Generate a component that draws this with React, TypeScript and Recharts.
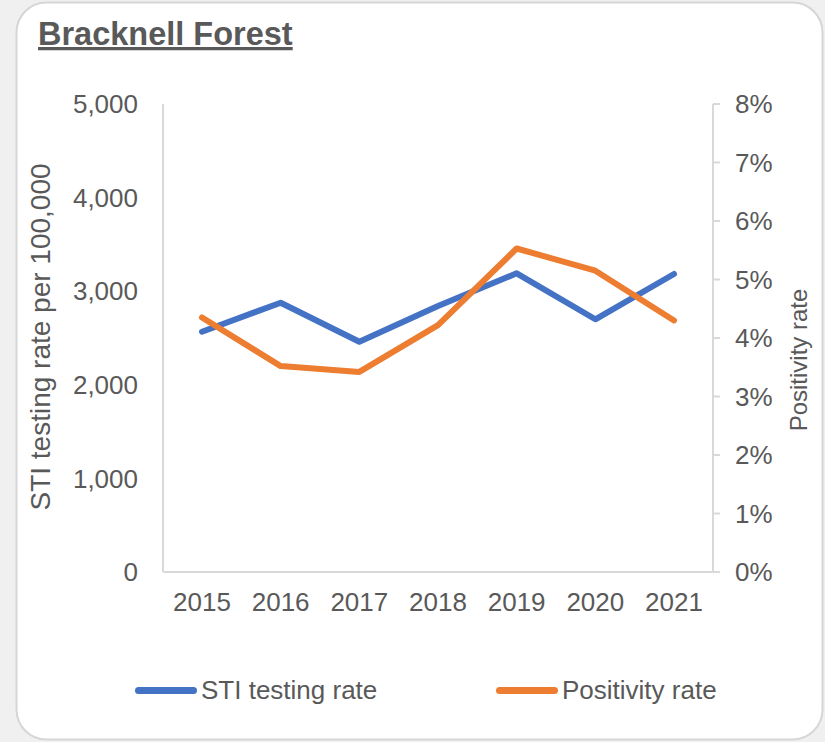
import React from 'react';
import { LineChart, Line, XAxis, YAxis, Label } from 'recharts';

const years = ['2015', '2016', '2017', '2018', '2019', '2020', '2021'];
const stiTestingRate = [2567, 2877, 2460, 2842, 3191, 2700, 3184];
const positivityRate = [4.35, 3.52, 3.42, 4.22, 5.53, 5.15, 4.3];
const leftTicks = [0, 1000, 2000, 3000, 4000, 5000];
const rightTicks = [0, 1, 2, 3, 4, 5, 6, 7, 8];

const title = 'Bracknell Forest';
const leftTitle = 'STI testing rate per 100,000';
const rightTitle = 'Positivity rate';
const seriesNames = ['STI testing rate', 'Positivity rate'];

const BLUE = '#4472C4';
const ORANGE = '#ED7D31';
const TEXT = '#595959';
const AXIS = '#d9d9d9';
const FONT = '"Liberation Sans", Arial, sans-serif';

const data = years.map((y, i) => ({ year: y, sti: stiTestingRate[i], pos: positivityRate[i] }));

const fmtThousands = (v: number) => v.toLocaleString('en-US');
const fmtPct = (v: number) => `${v}%`;

export default function App() {
  return (
    <div
      style={{
        position: 'absolute',
        left: 0,
        top: 0,
        width: 825,
        height: 742,
        background: '#f0f0f0',
        fontFamily: FONT,
        overflow: 'hidden',
      }}
    >
      <svg width={825} height={742} style={{ position: 'absolute', left: 0, top: 0 }}>
        <rect x={16.5} y={2.5} width={806} height={737} rx={30} ry={30} fill="#ffffff" stroke="#d6d6d6" strokeWidth={2} />
        <text x={38} y={45} fontFamily={FONT} fontSize={32.5} fontWeight="bold" fill={TEXT} textDecoration="underline">
          {title}
        </text>
      </svg>
      <div style={{ position: 'absolute', left: 0, top: 0 }}>
        <LineChart width={825} height={742} data={data} margin={{ top: 104, right: 0, bottom: 0, left: 0 }}>
          <XAxis
            dataKey="year"
            height={170}
            padding={{ left: 39, right: 39 }}
            axisLine={{ stroke: AXIS, strokeWidth: 2 }}
            tickLine={false}
            tickSize={0}
            tickMargin={21}
            tick={{ fill: TEXT, fontSize: 26, fontFamily: FONT }}
            interval={0}
          />
          <YAxis
            yAxisId="left"
            orientation="left"
            width={163}
            domain={[0, 5000]}
            ticks={leftTicks}
            tickFormatter={fmtThousands}
            axisLine={{ stroke: AXIS, strokeWidth: 2 }}
            tickLine={false}
            tickSize={0}
            tickMargin={25}
            tick={{ fill: TEXT, fontSize: 26, fontFamily: FONT }}
            interval={0}
          >
            <Label
              content={(props: any) => {
                const vb = props.viewBox || { x: 0, y: 104, width: 163, height: 468 };
                const cx = vb.x + 50;
                const cy = vb.y + vb.height / 2 - 1;
                return (
                  <text
                    x={cx}
                    y={cy}
                    transform={`rotate(-90 ${cx} ${cy})`}
                    textAnchor="middle"
                    fontSize={28}
                    fontFamily={FONT}
                    fill={TEXT}
                  >
                    {leftTitle}
                  </text>
                );
              }}
            />
          </YAxis>
          <YAxis
            yAxisId="right"
            orientation="right"
            width={112}
            domain={[0, 8]}
            ticks={rightTicks}
            tickFormatter={fmtPct}
            axisLine={{ stroke: AXIS, strokeWidth: 2 }}
            tickLine={{ stroke: AXIS, strokeWidth: 2 }}
            tickSize={7}
            tickMargin={15}
            tick={{ fill: TEXT, fontSize: 26, fontFamily: FONT }}
            interval={0}
          >
            <Label
              content={(props: any) => {
                const vb = props.viewBox || { x: 713, y: 104, width: 112, height: 468 };
                const cx = vb.x + 94;
                const cy = vb.y + 256;
                return (
                  <text
                    x={cx}
                    y={cy}
                    transform={`rotate(-90 ${cx} ${cy})`}
                    textAnchor="middle"
                    fontSize={24}
                    fontFamily={FONT}
                    fill={TEXT}
                  >
                    {rightTitle}
                  </text>
                );
              }}
            />
          </YAxis>
          <Line
            yAxisId="left"
            type="linear"
            dataKey="sti"
            name={seriesNames[0]}
            stroke={BLUE}
            strokeWidth={6}
            strokeLinecap="round"
            strokeLinejoin="round"
            dot={false}
            activeDot={false}
            isAnimationActive={false}
          />
          <Line
            yAxisId="right"
            type="linear"
            dataKey="pos"
            name={seriesNames[1]}
            stroke={ORANGE}
            strokeWidth={6}
            strokeLinecap="round"
            strokeLinejoin="round"
            dot={false}
            activeDot={false}
            isAnimationActive={false}
          />
        </LineChart>
      </div>
      <div style={{ position: 'absolute', left: 135, top: 687, width: 62, height: 7, borderRadius: 4, background: BLUE }} />
      <div
        style={{
          position: 'absolute',
          left: 201,
          top: 690,
          transform: 'translateY(-50%)',
          fontSize: 26,
          lineHeight: '30px',
          color: TEXT,
          whiteSpace: 'nowrap',
        }}
      >
        {seriesNames[0]}
      </div>
      <div style={{ position: 'absolute', left: 496, top: 687, width: 62, height: 7, borderRadius: 4, background: ORANGE }} />
      <div
        style={{
          position: 'absolute',
          left: 562,
          top: 690,
          transform: 'translateY(-50%)',
          fontSize: 26,
          lineHeight: '30px',
          color: TEXT,
          whiteSpace: 'nowrap',
        }}
      >
        {seriesNames[1]}
      </div>
    </div>
  );
}
